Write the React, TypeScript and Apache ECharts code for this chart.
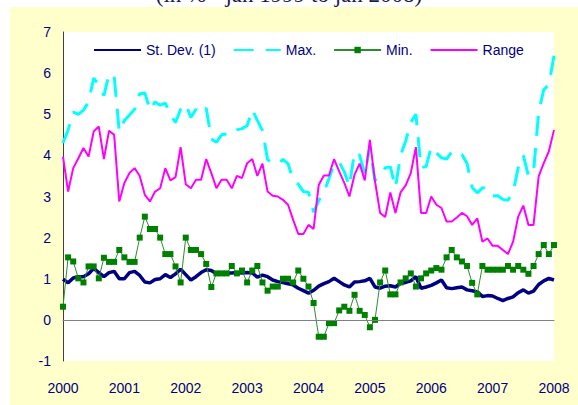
import React, { useEffect, useRef } from 'react';
import * as echarts from 'echarts';

// Monthly data, Jan 2000 ... Jan 2008 (97 points), in %
const yearTicks = ['2000', '2001', '2002', '2003', '2004', '2005', '2006', '2007', '2008'];

const stDev = [
  0.99, 0.90, 1.02, 1.05, 1.05, 1.12, 1.25, 1.15, 1.05, 1.15, 1.18, 1.00,
  1.00, 1.15, 1.18, 1.08, 0.92, 0.90, 0.98, 1.00, 1.10, 1.03, 1.12, 1.23,
  1.10, 0.97, 1.05, 1.15, 1.22, 1.20, 1.12, 1.14, 1.14, 1.14, 1.15, 1.14,
  1.15, 1.14, 1.04, 1.09, 1.05, 0.97, 0.93, 0.91, 0.88, 0.85, 0.77, 0.71,
  0.65, 0.72, 0.82, 0.88, 0.93, 1.01, 0.93, 0.85, 0.80, 0.92, 0.93, 0.95,
  1.01, 0.80, 0.77, 0.82, 0.83, 0.80, 0.89, 0.91, 0.95, 1.05, 0.77, 0.80,
  0.84, 0.90, 0.97, 0.78, 0.76, 0.78, 0.80, 0.73, 0.71, 0.68, 0.57, 0.59,
  0.58, 0.52, 0.47, 0.52, 0.56, 0.66, 0.73, 0.65, 0.70, 0.86, 0.95, 1.01,
  0.97,
];

const maxVals = [
  4.30, 4.62, 5.05, 5.00, 5.10, 5.30, 5.88, 5.72, 5.45, 5.98, 5.93, 4.58,
  4.85, 4.98, 5.12, 5.50, 5.52, 5.10, 5.30, 5.22, 5.27, 5.00, 4.80, 5.12,
  5.25, 4.92, 5.12, 5.02, 5.15, 4.40, 4.32, 4.50, 4.52, 4.50, 4.62, 4.65,
  4.72, 5.11, 4.85, 4.60, 3.90, 3.80, 3.80, 3.90, 3.80, 3.40, 3.30, 3.12,
  3.10, 2.62, 2.90, 3.10, 3.43, 3.80, 3.84, 3.60, 3.25, 4.08, 4.00, 3.55,
  4.20, 3.39, 3.51, 3.70, 3.72, 3.22, 4.00, 4.35, 4.80, 5.00, 3.70, 3.73,
  4.20, 4.06, 3.94, 3.91, 4.09, 4.01, 4.02, 3.80, 3.22, 3.09, 3.21, 3.20,
  3.02, 3.02, 2.93, 2.91, 3.10, 3.70, 4.00, 3.50, 3.60, 5.05, 5.60, 5.72,
  6.42,
];

const minVals = [
  0.32, 1.52, 1.42, 1.01, 0.91, 1.30, 1.30, 1.01, 1.51, 1.41, 1.41, 1.70,
  1.52, 1.41, 1.41, 2.00, 2.51, 2.21, 2.21, 2.00, 1.60, 1.60, 1.30, 0.91,
  2.00, 1.70, 1.70, 1.60, 1.36, 0.80, 1.13, 1.13, 1.13, 1.31, 1.13, 1.20,
  0.91, 1.20, 1.31, 0.91, 0.71, 0.81, 0.81, 1.00, 1.00, 0.91, 1.20, 1.00,
  0.81, 0.41, -0.41, -0.41, -0.08, -0.08, 0.23, 0.32, 0.22, 0.61, 0.22, 0.12,
  -0.18, 0.00, 0.91, 1.20, 0.62, 0.62, 0.91, 1.01, 1.13, 0.81, 1.01, 1.13,
  1.20, 1.26, 1.22, 1.52, 1.70, 1.52, 1.42, 1.31, 0.90, 0.62, 1.31, 1.22,
  1.22, 1.22, 1.22, 1.31, 1.22, 1.31, 1.22, 1.12, 1.31, 1.60, 1.82, 1.60,
  1.82,
];

const rangeVals = [
  3.97, 3.12, 3.69, 3.93, 4.18, 3.97, 4.58, 4.70, 3.91, 4.60, 4.50, 2.88,
  3.33, 3.57, 3.69, 3.50, 3.04, 2.88, 3.12, 3.20, 3.69, 3.39, 3.47, 4.20,
  3.30, 3.20, 3.41, 3.41, 3.91, 3.57, 3.20, 3.41, 3.41, 3.20, 3.50, 3.45,
  3.81, 3.91, 3.50, 3.80, 3.12, 3.02, 3.00, 2.92, 2.80, 2.43, 2.09, 2.09,
  2.31, 2.21, 3.28, 3.51, 3.51, 3.91, 3.61, 3.33, 3.00, 3.53, 3.80, 3.39,
  4.38, 3.37, 2.60, 2.50, 3.10, 2.60, 3.10, 3.27, 3.57, 4.20, 2.60, 2.60,
  3.00, 2.80, 2.72, 2.39, 2.39, 2.49, 2.60, 2.52, 2.31, 2.47, 1.90, 1.98,
  1.80, 1.80, 1.70, 1.60, 1.90, 2.51, 2.78, 2.31, 2.31, 3.49, 3.81, 4.10,
  4.62,
];

const seriesNames = ['St. Dev. (1)', 'Max.', 'Min.', 'Range'];
const subtitle = '(in % - jan 1999 to jan 2008)';

const FONT = '"Liberation Sans", Arial, sans-serif';
const NAVY = '#000080';

export default function App() {
  const ref = useRef<HTMLDivElement>(null);

  useEffect(() => {
    if (!ref.current) return;
    const chart = echarts.init(ref.current, null, { renderer: 'svg' });

    const months: string[] = [];
    for (let y = 0; y < yearTicks.length - 1; y++) {
      for (let m = 1; m <= 12; m++) months.push(yearTicks[y] + '-' + (m < 10 ? '0' + m : '' + m));
    }
    months.push(yearTicks[yearTicks.length - 1] + '-01');

    const hiddenMarker = { opacity: 0 };

    chart.setOption({
      animation: false,
      backgroundColor: 'transparent',
      textStyle: { fontFamily: FONT },
      graphic: [
        {
          type: 'text',
          left: 'center',
          top: -17,
          style: {
            text: subtitle,
            font: '23px "Liberation Serif", "Times New Roman", serif',
            fill: '#1a1a50',
          },
          silent: true,
        },
      ],
      grid: {
        left: 63,
        right: 24,
        top: 32,
        bottom: 44,
        show: true,
        backgroundColor: '#ffffff',
        borderWidth: 0,
        containLabel: false,
      },
      legend: {
        data: [
          { name: seriesNames[0], itemStyle: hiddenMarker },
          { name: seriesNames[1], itemStyle: hiddenMarker },
          { name: seriesNames[2] },
          { name: seriesNames[3], itemStyle: hiddenMarker },
        ],
        left: 93,
        top: 43,
        padding: 0,
        itemWidth: 47,
        itemHeight: 8,
        itemGap: 17,
        textStyle: { color: NAVY, fontSize: 14, fontFamily: FONT },
      },
      xAxis: {
        type: 'category',
        data: months,
        boundaryGap: false,
        axisLine: { show: true, lineStyle: { color: '#808080', width: 1 } },
        axisTick: { show: false },
        splitLine: { show: false },
        axisLabel: {
          interval: (i: number) => i % 12 === 0,
          formatter: (_v: string, i: number) => yearTicks[Math.round(i / 12)] ?? '',
          color: NAVY,
          fontSize: 14,
          fontFamily: FONT,
          margin: 20,
        },
      },
      yAxis: {
        type: 'value',
        min: -1,
        max: 7,
        interval: 1,
        axisLine: { show: true, lineStyle: { color: '#404040', width: 1 } },
        axisTick: { show: false },
        splitLine: { show: false },
        axisLabel: { color: NAVY, fontSize: 14, fontFamily: FONT, margin: 12 },
      },
      series: [
        {
          name: seriesNames[0],
          type: 'line',
          data: stDev,
          symbol: 'none',
          lineStyle: { color: NAVY, width: 3.5 },
          itemStyle: { color: NAVY },
          z: 3,
          markLine: {
            silent: true,
            symbol: 'none',
            label: { show: false },
            lineStyle: { color: '#808080', width: 1, type: 'solid' },
            data: [{ yAxis: 0 }],
          },
        },
        {
          name: seriesNames[1],
          type: 'line',
          data: maxVals,
          symbol: 'none',
          lineStyle: { color: '#00FFFF', width: 3, type: [20, 12] },
          itemStyle: { color: '#00FFFF' },
          z: 2,
        },
        {
          name: seriesNames[2],
          type: 'line',
          data: minVals,
          symbol: 'rect',
          symbolSize: 6,
          showAllSymbol: true,
          lineStyle: { color: '#2E8B2E', width: 1 },
          itemStyle: { color: '#008000' },
          z: 4,
        },
        {
          name: seriesNames[3],
          type: 'line',
          data: rangeVals,
          symbol: 'none',
          lineStyle: { color: '#FF00FF', width: 2 },
          itemStyle: { color: '#FF00FF' },
          z: 2,
        },
      ],
    });

    return () => chart.dispose();
  }, []);

  return (
    <div
      style={{
        position: 'absolute',
        left: 0,
        top: 0,
        width: 578,
        height: 405,
        background: '#ffffff',
        overflow: 'hidden',
      }}
    >
      <div
        style={{
          position: 'absolute',
          left: 10,
          top: 7,
          right: 0,
          bottom: 0,
          background: '#FFFFCC',
        }}
      />
      <div ref={ref} style={{ position: 'absolute', left: 0, top: 0, width: 578, height: 405 }} />
    </div>
  );
}
